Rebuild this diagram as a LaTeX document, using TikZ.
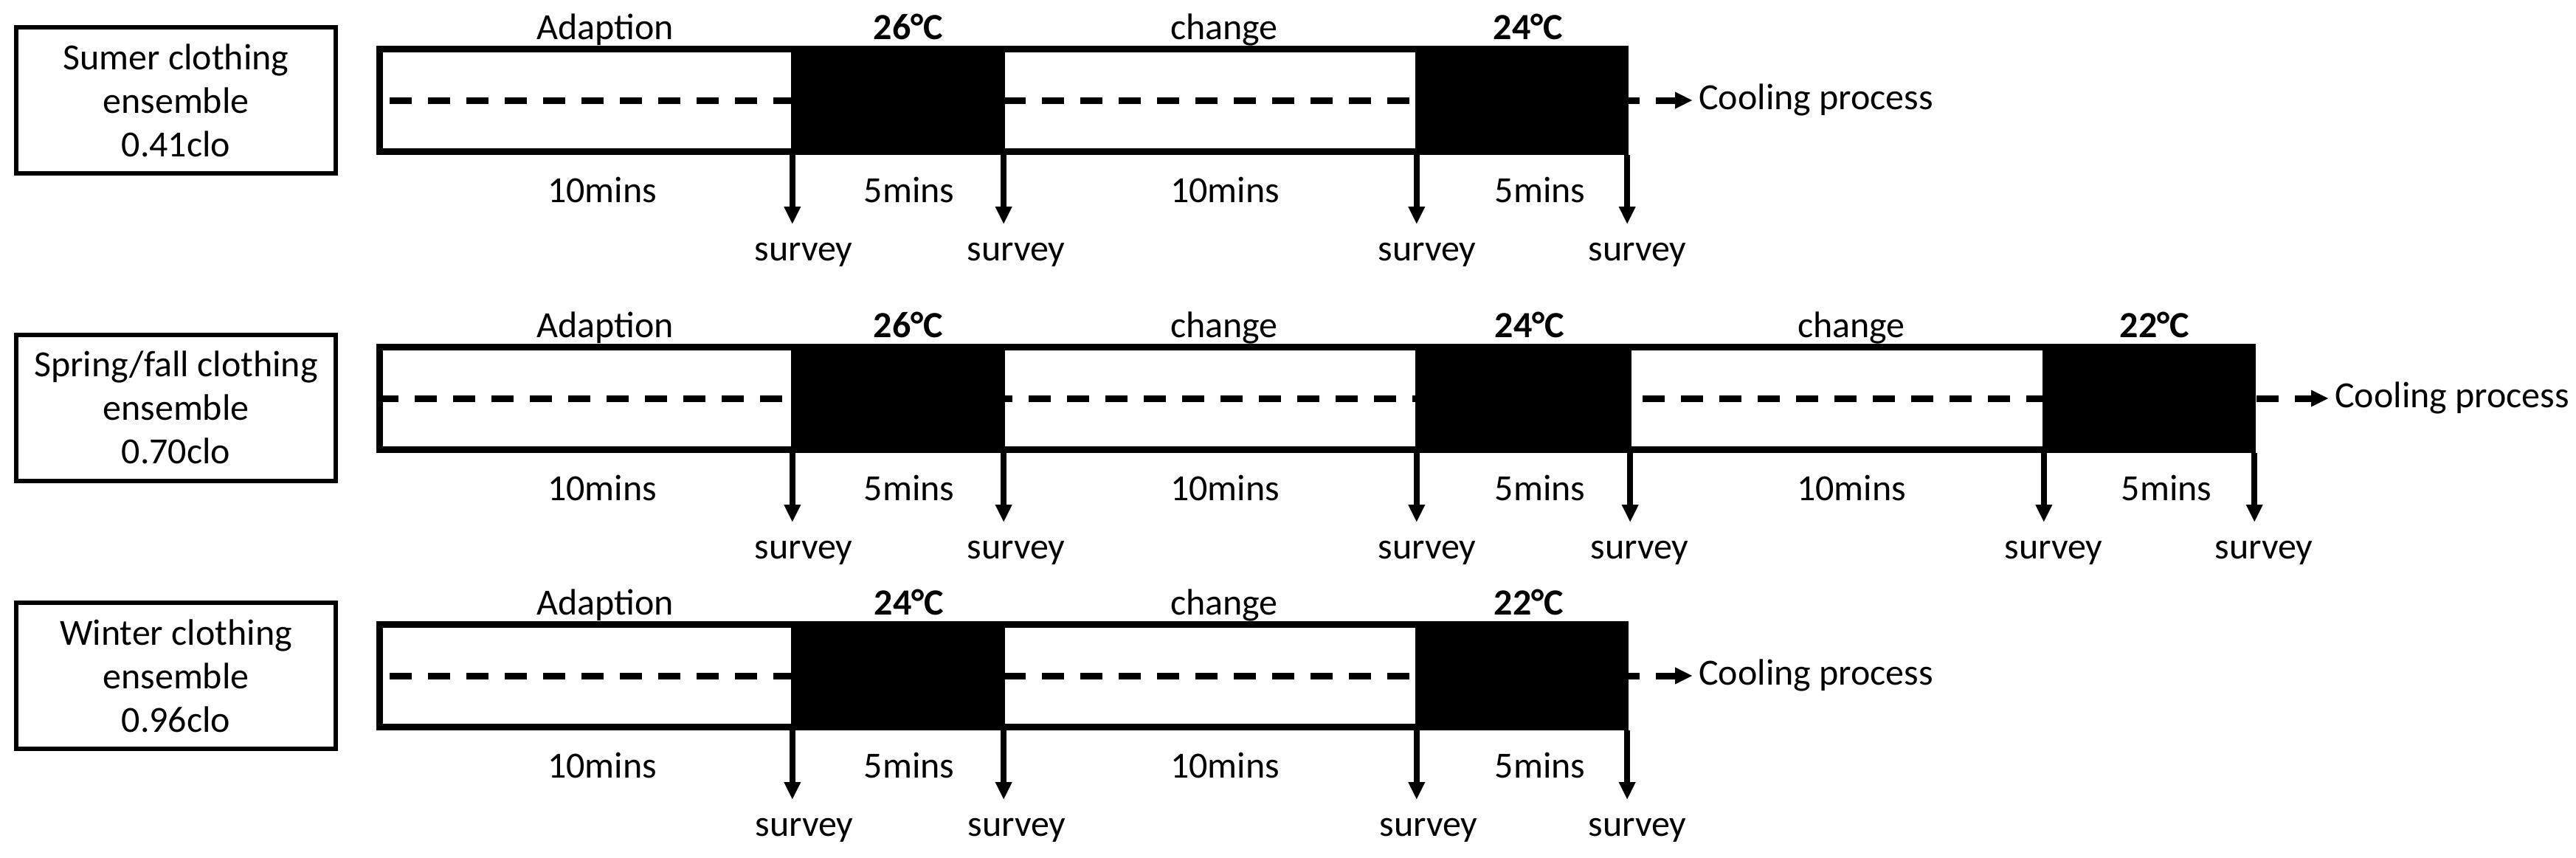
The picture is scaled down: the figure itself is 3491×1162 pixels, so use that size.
\documentclass[tikz,border=0pt]{standalone}
\usepackage{fontspec}
\setmainfont{Carlito}
\usetikzlibrary{arrows.meta}
\begin{document}
\begin{tikzpicture}[x=1pt,y=-1pt,
  lab/.style={draw, line width=6pt, minimum width=433pt, minimum height=198pt, inner sep=0pt, align=center, font=\fontsize{50pt}{59pt}\selectfont},
  txt/.style={anchor=base, inner sep=0pt, font=\fontsize{50pt}{58pt}\selectfont},
  temp/.style={anchor=base, inner sep=0pt, font=\fontsize{50pt}{58pt}\selectfont\bfseries},
  cool/.style={anchor=base west, inner sep=0pt, font=\fontsize{50pt}{58pt}\selectfont},
  barbox/.style={draw, line width=9pt, minimum height=139pt, inner sep=0pt},
  hot/.style={fill=black, inner sep=0pt, minimum height=148pt},
  dashline/.style={line width=9pt, dash pattern=on 30pt off 22pt, -{Triangle[width=23pt,length=23pt,line width=0pt]}},
  survarrow/.style={line width=8pt, -{Triangle[width=23pt,length=23pt,line width=0pt]}},
]
\useasboundingbox (0,0) rectangle (3491,1162);

% ---- label boxes
\node[lab] (lab1) at (238.5,136) {Sumer clothing\\ensemble\\0.41clo};
\node[lab] (lab2) at (238.5,552.5) {Spring/fall clothing\\ensemble\\0.70clo};
\node[lab] (lab3) at (238.5,916) {Winter clothing\\ensemble\\0.96clo};

% ---- bars
\node[barbox, minimum width=1688pt] (bar1) at (1358.5,136) {};
\node[barbox, minimum width=2538pt] (bar2) at (1783.5,540) {};
\node[barbox, minimum width=1688pt] (bar3) at (1358.5,916) {};

% ---- dashed cooling lines
\coordinate (ce1) at (2293,136);
\coordinate (ce2) at (3155,540);
\coordinate (ce3) at (2293,916);
\draw[dashline] ([xshift=18pt]bar1.west) -- (ce1);
\draw[dashline] (bar2.west) -- (ce2);
\draw[dashline] ([xshift=18pt]bar3.west) -- (ce3);

% ---- hot (black) periods
\node[hot, minimum width=290pt] (h11) at (1217,136) {};
\node[hot, minimum width=289pt] (h12) at (2062.5,136) {};
\node[hot, minimum width=290pt] (h21) at (1217,540) {};
\node[hot, minimum width=293pt] (h22) at (2064.5,540) {};
\node[hot, minimum width=289pt] (h23) at (2912.5,540) {};
\node[hot, minimum width=290pt] (h31) at (1217,916) {};
\node[hot, minimum width=289pt] (h32) at (2062.5,916) {};

% ---- survey arrows
\foreach \h in {h11,h12,h21,h22,h23,h31,h32}{
  \draw[survarrow] ([xshift=2pt]\h.south west) -- ++(0,93);
  \draw[survarrow] ([xshift=-2pt]\h.south east) -- ++(0,93);
}

% ---- row 1 texts
\node[txt]  (a1)  at (820,53)  {Adaption};
\node[temp] (t11) at (1231,53) {26°C};
\node[txt]  (c11) at (1659,53) {change};
\node[temp] (t12) at (2071,53) {24°C};
\node[txt]  (m11) at (816,274)  {10mins};
\node[txt]  (m12) at (1232,274) {5mins};
\node[txt]  (m13) at (1660,274) {10mins};
\node[txt]  (m14) at (2087,274) {5mins};
\node[txt]  (s11) at (1089,353) {survey};
\node[txt]  (s12) at (1377,353) {survey};
\node[txt]  (s13) at (1934,353) {survey};
\node[txt]  (s14) at (2219,353) {survey};
\node[cool] (cp1) at (2302,148) {Cooling process};

% ---- row 2 texts
\node[txt]  (a2)  at (820,457)  {Adaption};
\node[temp] (t21) at (1231,457) {26°C};
\node[txt]  (c21) at (1659,457) {change};
\node[temp] (t22) at (2073,457) {24°C};
\node[txt]  (c22) at (2509,457) {change};
\node[temp] (t23) at (2920,457) {22°C};
\node[txt]  (m21) at (816,678)  {10mins};
\node[txt]  (m22) at (1232,678) {5mins};
\node[txt]  (m23) at (1660,678) {10mins};
\node[txt]  (m24) at (2087,678) {5mins};
\node[txt]  (m25) at (2509,678) {10mins};
\node[txt]  (m26) at (2936,678) {5mins};
\node[txt]  (s21) at (1089,757) {survey};
\node[txt]  (s22) at (1377,757) {survey};
\node[txt]  (s23) at (1934,757) {survey};
\node[txt]  (s24) at (2222,757) {survey};
\node[txt]  (s25) at (2783,757) {survey};
\node[txt]  (s26) at (3068,757) {survey};
\node[cool] (cp2) at (3164,552) {Cooling process};

% ---- row 3 texts
\node[txt]  (a3)  at (820,833)  {Adaption};
\node[temp] (t31) at (1232,833) {24°C};
\node[txt]  (c31) at (1659,833) {change};
\node[temp] (t32) at (2072,833) {22°C};
\node[txt]  (m31) at (816,1054)  {10mins};
\node[txt]  (m32) at (1232,1054) {5mins};
\node[txt]  (m33) at (1660,1054) {10mins};
\node[txt]  (m34) at (2087,1054) {5mins};
\node[txt]  (s31) at (1090,1133) {survey};
\node[txt]  (s32) at (1378,1133) {survey};
\node[txt]  (s33) at (1936,1133) {survey};
\node[txt]  (s34) at (2219,1133) {survey};
\node[cool] (cp3) at (2302,928) {Cooling process};
\end{tikzpicture}
\end{document}
